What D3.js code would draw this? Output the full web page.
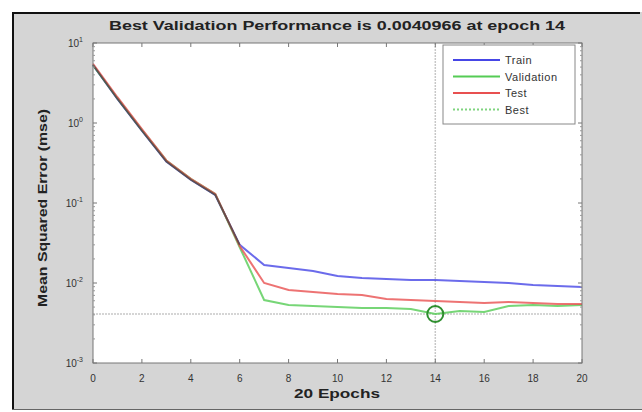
<!DOCTYPE html>
<html>
<head>
<meta charset="utf-8">
<script src="https://cdn.jsdelivr.net/npm/d3@7"></script>
<style>
  body { margin: 0; background: #fff; }
  svg { display: block; font-family: "Liberation Sans", Arial, sans-serif; }
</style>
</head>
<body>
<div id="chart"></div>
<script>
// data
var epochs = d3.range(0, 21);
var train = [5.3, 2.0, 0.80, 0.33, 0.195, 0.126, 0.030, 0.0168, 0.0154, 0.0141, 0.0122,
	0.01155, 0.0112, 0.0109, 0.0109, 0.0106, 0.0103, 0.0100, 0.00944, 0.00917, 0.00891];
var validation = [5.3, 2.05, 0.82, 0.34, 0.20, 0.13, 0.028, 0.00613, 0.00531, 0.00516, 0.00501,
	0.00487, 0.00487, 0.00473, 0.0040966, 0.00447, 0.00434, 0.00516, 0.00531, 0.00516, 0.00531];
var test = [5.5, 2.1, 0.84, 0.34, 0.20, 0.13, 0.029, 0.0100, 0.00818, 0.00772, 0.00729,
	0.00708, 0.00631, 0.00613, 0.00596, 0.00579, 0.00562, 0.00579, 0.00562, 0.00546, 0.00546];
var bestEpoch = 14;
var bestValue = 0.0040966;
var xTicks = [0, 2, 4, 6, 8, 10, 12, 14, 16, 18, 20];
var yTickExps = [-3, -2, -1, 0, 1];
var seriesNames = ["Train", "Validation", "Test", "Best"];
var seriesColors = ["#4646e6", "#55cc55", "#e85050", "#7fd47f"];

var W = 642, H = 412;
var pLeft = 93, pRight = 582, pTop = 43, pBottom = 363;

var svg = d3.select("#chart").append("svg")
	.attr("width", W)
	.attr("height", H);

// figure background
svg.append("rect")
	.attr("x", 12).attr("y", 12)
	.attr("width", 630).attr("height", 397)
	.attr("fill", "#d5d5d5");
svg.append("path")
	.attr("d", "M13,409V13H640")
	.attr("fill", "none")
	.attr("stroke", "#111")
	.attr("stroke-width", 2);
svg.append("line")
	.attr("x1", 12).attr("x2", 642)
	.attr("y1", 409.5).attr("y2", 409.5)
	.attr("stroke", "#666");

var x = d3.scaleLinear().domain([0, 20]).range([pLeft, pRight]);
var y = d3.scaleLog().domain([1e-3, 10]).range([pBottom, pTop]);

// plot area
svg.append("rect")
	.attr("x", pLeft).attr("y", pTop)
	.attr("width", pRight - pLeft).attr("height", pBottom - pTop)
	.attr("fill", "#fff");

// best markers (dotted lines)
svg.append("line")
	.attr("x1", x(bestEpoch)).attr("x2", x(bestEpoch))
	.attr("y1", pTop).attr("y2", pBottom)
	.attr("stroke", "#c8c8c8")
	.attr("stroke-width", 1.5)
	.attr("stroke-dasharray", "2,1");
svg.append("line")
	.attr("x1", pLeft).attr("x2", pRight)
	.attr("y1", y(bestValue)).attr("y2", y(bestValue))
	.attr("stroke", "#c8c8c8")
	.attr("stroke-width", 1.5)
	.attr("stroke-dasharray", "2,1");

var line = d3.line()
	.x(function(d, i) { return x(epochs[i]); })
	.y(function(d) { return y(d); });

[train, validation, test].forEach(function(s, i) {
	svg.append("path")
		.datum(s)
		.attr("fill", "none")
		.attr("stroke", seriesColors[i])
		.attr("stroke-width", 2)
		.attr("stroke-opacity", 0.8)
		.attr("d", line);
});
// the overlapping early part reads as a dark line
svg.append("path")
	.datum(train.slice(0, 7))
	.attr("fill", "none")
	.attr("stroke", "#444")
	.attr("stroke-width", 1.8)
	.attr("stroke-opacity", 0.75)
	.attr("d", line);

svg.append("circle")
	.attr("cx", x(bestEpoch))
	.attr("cy", y(bestValue))
	.attr("r", 8)
	.attr("fill", "none")
	.attr("stroke", "#2f8f2f")
	.attr("stroke-width", 2);

// axes box
svg.append("rect")
	.attr("x", pLeft).attr("y", pTop)
	.attr("width", pRight - pLeft).attr("height", pBottom - pTop)
	.attr("fill", "none")
	.attr("stroke", "#777")
	.attr("stroke-width", 1);

// x ticks
var xg = svg.append("g");
xTicks.forEach(function(t) {
	xg.append("line")
		.attr("x1", x(t)).attr("x2", x(t))
		.attr("y1", pBottom).attr("y2", pBottom - 4)
		.attr("stroke", "#777");
	xg.append("line")
		.attr("x1", x(t)).attr("x2", x(t))
		.attr("y1", pTop).attr("y2", pTop + 4)
		.attr("stroke", "#777");
	xg.append("text")
		.attr("x", x(t))
		.attr("y", pBottom + 19)
		.attr("text-anchor", "middle")
		.attr("fill", "#333")
		.style("font-size", "10px")
		.text(t);
});

// y ticks (log, major + minor)
var yg = svg.append("g");
yTickExps.forEach(function(e, i) {
	var v = Math.pow(10, e);
	yg.append("line")
		.attr("x1", pLeft).attr("x2", pLeft + 4)
		.attr("y1", y(v)).attr("y2", y(v))
		.attr("stroke", "#777");
	yg.append("line")
		.attr("x1", pRight).attr("x2", pRight - 4)
		.attr("y1", y(v)).attr("y2", y(v))
		.attr("stroke", "#777");
	var lbl = yg.append("text")
		.attr("x", pLeft - 10)
		.attr("y", y(v) + 4)
		.attr("text-anchor", "end")
		.attr("fill", "#333")
		.style("font-size", "10px");
	lbl.append("tspan").text("10");
	lbl.append("tspan")
		.attr("dy", -5)
		.style("font-size", "7px")
		.text(e);
	if (i < yTickExps.length - 1) {
		for (var m = 2; m < 10; m++) {
			var mv = m * v;
			yg.append("line")
				.attr("x1", pLeft).attr("x2", pLeft + 2)
				.attr("y1", y(mv)).attr("y2", y(mv))
				.attr("stroke", "#999");
			yg.append("line")
				.attr("x1", pRight).attr("x2", pRight - 2)
				.attr("y1", y(mv)).attr("y2", y(mv))
				.attr("stroke", "#999");
		}
	}
});

// title and labels
svg.append("text")
	.attr("x", 337)
	.attr("y", 30)
	.attr("text-anchor", "middle")
	.attr("fill", "#222")
	.attr("textLength", 456)
	.attr("lengthAdjust", "spacingAndGlyphs")
	.style("font-size", "13px")
	.style("font-weight", "bold")
	.text("Best Validation Performance is 0.0040966 at epoch " + bestEpoch);
svg.append("text")
	.attr("x", 337)
	.attr("y", 398)
	.attr("text-anchor", "middle")
	.attr("fill", "#222")
	.attr("textLength", 86)
	.attr("lengthAdjust", "spacingAndGlyphs")
	.style("font-size", "13px")
	.style("font-weight", "bold")
	.text("20 Epochs");
svg.append("text")
	.attr("transform", "translate(47,208) rotate(-90)")
	.attr("text-anchor", "middle")
	.attr("fill", "#222")
	.attr("textLength", 198)
	.attr("lengthAdjust", "spacingAndGlyphs")
	.style("font-size", "13px")
	.style("font-weight", "bold")
	.text("Mean Squared Error  (mse)");

// legend
var lg = svg.append("g");
lg.append("rect")
	.attr("x", 443).attr("y", 45)
	.attr("width", 132).attr("height", 79)
	.attr("fill", "#fff")
	.attr("stroke", "#888");
seriesNames.forEach(function(n, i) {
	var ly = 60 + i * 16.5;
	lg.append("line")
		.attr("x1", 453).attr("x2", 500)
		.attr("y1", ly).attr("y2", ly)
		.attr("stroke", seriesColors[i])
		.attr("stroke-width", 2)
		.attr("stroke-dasharray", n === "Best" ? "2,2" : null);
	lg.append("text")
		.attr("x", 505)
		.attr("y", ly + 4)
		.attr("fill", "#333")
		.style("font-size", "11px")
		.style("letter-spacing", "0.5px")
		.text(n);
});
</script>
</body>
</html>
